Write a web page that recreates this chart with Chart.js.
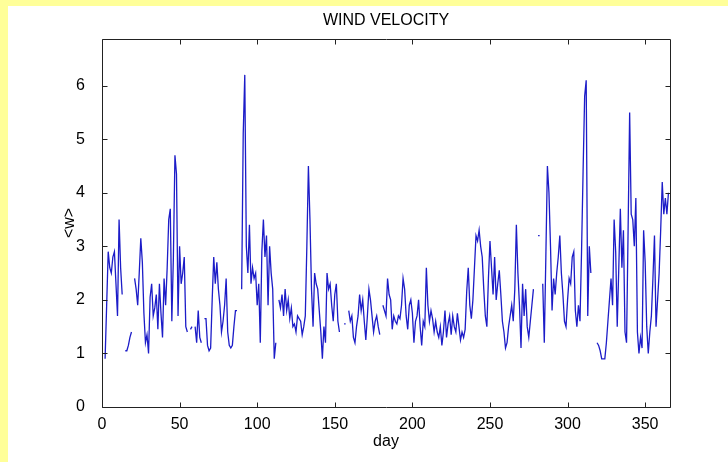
<!DOCTYPE html>
<html>
<head>
<meta charset="utf-8">
<title>Wind velocity</title>
<script src="https://cdn.jsdelivr.net/npm/chart.js@4.4.1/dist/chart.umd.min.js"></script>
<style>
  html, body { margin: 0; padding: 0; background: #ffff99; }
  body { width: 728px; height: 462px; overflow: hidden; position: relative; }
  #wrap { position: absolute; left: 8px; top: 6px; width: 720px; height: 456px; background: #fff; }
</style>
</head>
<body>
<div id="wrap"><canvas id="windChart" width="720" height="456"></canvas></div>
<script>
// ---------- DATA ----------
// one value per day, null where the record has a gap
const FIRST_DAY = 0;
const velocity = [
  null, null, 0.9, 1.9, 2.9, 2.6, 2.5, 2.8, 2.9, 2.3,          // 0
  1.7, 3.5, 2.6, 2.1, null, 1.05, 1.05, 1.15, 1.3, 1.4,        // 10
  null, 2.4, 2.2, 1.9, 2.5, 3.15, 2.7, 1.75, 1.2, 1.35,        // 20
  1.0, 2.05, 2.3, 1.7, 1.85, 2.1, 1.45, 2.3, 1.75, 1.3,        // 30
  2.4, 1.9, 2.6, 3.5, 3.7, 1.6, 2.8, 4.7, 4.35, 1.7,           // 40
  3.0, 2.3, 2.5, 2.8, 1.5, 1.4, null, 1.45, 1.5, null,         // 50
  1.5, 1.2, 1.8, 1.3, 1.2, null, 1.65, 1.65, 1.15, 1.05,       // 60
  1.1, 2.0, 2.8, 2.3, 2.7, 2.2, 1.9, 1.4, 1.6, 1.9,            // 70
  2.4, 1.4, 1.15, 1.1, 1.15, 1.5, 1.8, 1.8, null, null,        // 80
  2.2, 5.1, 6.2, 3.0, 2.5, 3.4, 2.3, 2.6, 2.4, 2.5,            // 90
  1.9, 2.3, 1.2, 2.9, 3.5, 2.8, 3.2, 1.9, 3.0, 2.5,            // 100
  2.2, 0.9, 1.2, null, 2.0, 1.85, 2.1, 1.7, 2.2, 1.8,          // 110
  2.0, 1.65, 1.85, 1.5, 1.55, 1.4, 1.7, 1.65, 1.6, 1.35,       // 120
  1.5, 1.7, 3.0, 4.5, 3.5, 2.2, 1.5, 2.5, 2.3, 2.2,            // 130
  1.8, 1.4, 0.9, 1.5, 1.2, 2.5, 2.2, 2.3, 1.9, 1.6,            // 140
  2.1, 2.3, 1.6, 1.4, null, null, 1.55, 1.55, null, 1.8,       // 150
  1.6, 1.7, 1.3, 1.2, 1.5, 1.7, 2.1, 1.8, 2.0, 1.6,            // 160
  1.25, 1.7, 2.2, 2.0, 1.7, 1.4, 1.6, 1.7, 1.5, 1.35,          // 170
  null, 1.9, 1.8, 1.7, 2.4, 2.1, 2.0, 1.45, 1.7, 1.6,          // 180
  1.55, 1.7, 1.65, 1.9, 2.4, 2.2, 1.7, 1.45, 1.9, 2.0,         // 190
  1.75, 1.2, 1.6, 1.7, 2.0, 1.5, 1.15, 1.6, 1.5, 2.6,          // 200
  1.9, 1.6, 1.8, 1.65, 1.4, 1.6, 1.4, 1.3, 1.5, 1.15,          // 210
  1.4, 1.8, 1.3, 1.55, 1.7, 1.35, 1.7, 1.5, 1.4, 1.75,         // 220
  1.5, 1.25, 1.4, 1.3, 1.45, 2.15, 2.6, 1.9, 1.65, 2.0,        // 230
  2.6, 3.2, 3.1, 3.3, 3.0, 2.8, 2.2, 1.7, 1.5, 2.4,            // 240
  3.1, 2.6, 2.1, 2.8, 2.0, 2.3, 2.55, 2.1, 1.6, 1.4,           // 250
  1.1, 1.2, 1.5, 1.7, 1.9, 1.6, 2.2, 3.4, 2.5, 1.9,            // 260
  1.1, 2.3, 1.7, 2.2, 1.5, 1.3, 1.6, 1.9, 2.2, null,           // 270
  null, 3.2, 3.2, null, 2.3, 1.2, 2.8, 4.5, 4.0, 3.0,          // 280
  1.8, 2.4, 2.1, 2.5, 2.8, 3.2, 2.5, 2.1, 1.6, 1.5,            // 290
  2.0, 2.4, 2.3, 2.8, 2.9, 1.8, 1.5, 1.9, 1.6, 2.9,            // 300
  4.4, 5.8, 6.1, 1.7, 3.0, 2.5, null, null, null, 1.2,         // 310
  1.15, 1.05, 0.9, 0.9, 0.9, 1.2, 1.6, 2.0, 2.4, 1.9,          // 320
  3.5, 2.9, 1.5, 2.6, 3.7, 2.6, 3.3, 1.4, 1.2, 3.3,            // 330
  5.5, 3.6, 3.5, 3.0, 3.9, 1.4, 1.0, 1.3, 1.1, 3.3,            // 340
  2.7, 1.5, 1.0, 1.4, 1.7, 2.4, 3.2, 1.5, 2.0, 2.5,            // 350
  3.3, 4.2, 3.6, 3.9, 3.6, 4.0                                 // 360
];

const xTicks = [0, 50, 100, 150, 200, 250, 300, 350];
const yTicks = [0, 1, 2, 3, 4, 5, 6];
const X_MAX = 366;
const Y_MAX = 6.87;

// ---------- STYLE ----------
const FONT = { family: "'Liberation Sans', Arial, Helvetica, sans-serif", size: 16, weight: "normal" };
const TEXT_COLOR = "#000";
const AXIS_COLOR = "#222";
const LINE_COLOR = "#1c1cc8";
const TICK_LEN = 5;

const points = velocity.map((v, i) => ({ x: FIRST_DAY + i, y: v }));

// box round the axes with inward ticks on all four sides
const boxTicks = {
  id: "boxTicks",
  afterDatasetsDraw(chart) {
    const { ctx, chartArea: a, scales: { x, y } } = chart;
    const l = Math.round(a.left) + 0.5;
    const r = Math.round(a.right) + 0.5;
    const t = Math.round(a.top) + 0.5;
    const b = Math.round(a.bottom) + 0.5;
    ctx.save();
    ctx.strokeStyle = AXIS_COLOR;
    ctx.lineWidth = 1;
    ctx.beginPath();
    ctx.rect(l, t, r - l, b - t);
    xTicks.forEach(v => {
      const px = Math.round(x.getPixelForValue(v)) + 0.5;
      ctx.moveTo(px, b); ctx.lineTo(px, b - TICK_LEN);
      ctx.moveTo(px, t); ctx.lineTo(px, t + TICK_LEN);
    });
    yTicks.forEach(v => {
      const py = Math.round(y.getPixelForValue(v)) + 0.5;
      ctx.moveTo(l, py); ctx.lineTo(l + TICK_LEN, py);
      ctx.moveTo(r, py); ctx.lineTo(r - TICK_LEN, py);
    });
    ctx.stroke();
    ctx.restore();
  }
};

new Chart(document.getElementById("windChart"), {
  type: "line",
  data: {
    datasets: [{
      data: points,
      borderColor: LINE_COLOR,
      borderWidth: 1.3,
      pointRadius: 0,
      tension: 0,
      fill: false,
      spanGaps: false
    }]
  },
  options: {
    responsive: false,
    animation: false,
    layout: { padding: { left: 52, right: 58, top: 0, bottom: 11 } },
    plugins: {
      legend: { display: false },
      tooltip: { enabled: false },
      title: {
        display: true,
        text: "WIND VELOCITY",
        color: TEXT_COLOR,
        font: FONT,
        fullSize: false,
        padding: { top: 5, bottom: 8.8 }
      }
    },
    scales: {
      x: {
        type: "linear",
        min: 0,
        max: X_MAX,
        afterBuildTicks: s => { s.ticks = xTicks.map(v => ({ value: v })); },
        afterFit: s => { s.height = 44; },
        ticks: { font: FONT, color: TEXT_COLOR, padding: 0, maxRotation: 0, autoSkip: false },
        grid: { display: false },
        border: { display: false },
        title: { display: true, text: "day", color: TEXT_COLOR, font: FONT, padding: 0 }
      },
      y: {
        type: "linear",
        min: 0,
        max: Y_MAX,
        afterBuildTicks: s => { s.ticks = yTicks.map(v => ({ value: v })); },
        afterFit: s => { s.width = 42; },
        ticks: { font: FONT, color: TEXT_COLOR, padding: 9, autoSkip: false },
        grid: { display: false },
        border: { display: false },
        title: { display: true, text: "<w>", color: TEXT_COLOR, font: FONT, padding: 0 }
      }
    }
  },
  plugins: [boxTicks]
});
</script>
</body>
</html>
